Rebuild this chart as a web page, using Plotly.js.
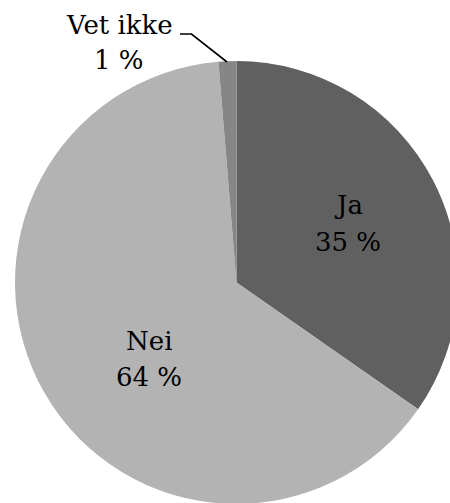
<!DOCTYPE html>
<html>
<head>
<meta charset="utf-8">
<script src="https://cdn.plot.ly/plotly-3.0.1.min.js"></script>
<style>
html,body{margin:0;padding:0;background:#fff;overflow:hidden;width:450px;height:503px;}
#chart{width:458px;height:504px;}
</style>
</head>
<body>
<div id="chart"></div>
<script>
var categories = ["Ja", "Nei", "Vet ikke"];
var values = [34.7, 64.0, 1.3];
var percentLabels = ["35 %", "64 %", "1 %"];
var colors = ["#606060", "#b3b3b3", "#868686"];

var W = 458, H = 504, L = 15, T = 61, PW = 443, PH = 443;
function px(x){ return (x - L) / PW; }
function py(y){ return 1 - (y - T) / PH; }

var font = {family: "DejaVu Serif", size: 26, color: "#000"};

// label positions (pixel centres) per category: [name line, percent line]
var labelPos = [
  [[348, 205], [348, 242]],
  [[149, 341], [149, 377]],
  [[119, 25], [119, 60]]
];

var annotations = [];
categories.forEach(function(c, i){
  annotations.push({xref:"paper", yref:"paper", x:px(labelPos[i][0][0]), y:py(labelPos[i][0][1]),
    text:c, showarrow:false, xanchor:"center", yanchor:"middle", font:font});
  annotations.push({xref:"paper", yref:"paper", x:px(labelPos[i][1][0]), y:py(labelPos[i][1][1]),
    text:percentLabels[i], showarrow:false, xanchor:"center", yanchor:"middle", font:font});
});

var data = [{
  type: "pie",
  labels: categories,
  values: values,
  sort: false,
  direction: "clockwise",
  rotation: 0,
  textinfo: "none",
  hoverinfo: "none",
  marker: {colors: colors, line: {width: 0}},
  showlegend: false,
  domain: {x: [0, 1], y: [0, 1]}
}];

var layout = {
  width: W, height: H,
  margin: {l: L, r: W - L - PW, t: T, b: H - T - PH, pad: 0},
  paper_bgcolor: "#fff",
  plot_bgcolor: "#fff",
  showlegend: false,
  font: {family: "DejaVu Serif"},
  annotations: annotations,
  shapes: [{
    type: "path", xref: "paper", yref: "paper",
    path: "M " + px(180) + " " + py(34) + " L " + px(191.5) + " " + py(34) + " L " + px(227) + " " + py(62),
    line: {color: "#000", width: 1.7}
  }]
};

Plotly.newPlot("chart", data, layout, {staticPlot: true, displayModeBar: false});
</script>
</body>
</html>
